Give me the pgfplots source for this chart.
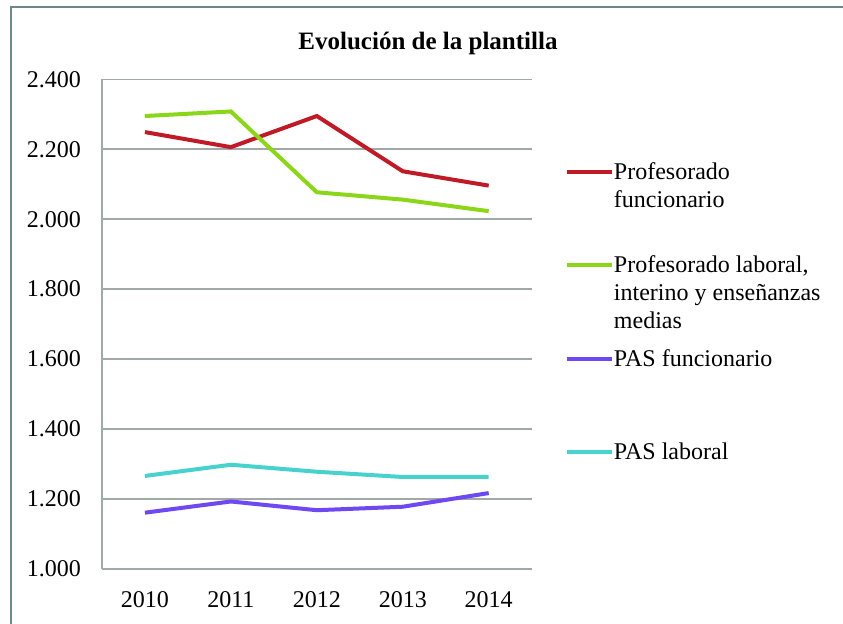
\documentclass[border=0pt]{standalone}
\usepackage{pgfplots}
\pgfplotsset{compat=1.18}
\usepackage{fontspec}
\setmainfont{Liberation Serif}
\definecolor{cred}{RGB}{192,26,38}
\definecolor{cgreen}{RGB}{140,214,26}
\definecolor{cpurple}{RGB}{110,72,240}
\definecolor{ccyan}{RGB}{72,210,206}
\definecolor{cgrid}{RGB}{160,168,168}
\definecolor{cframe}{RGB}{110,135,135}
\newcommand{\lent}[1]{\parbox[b][45.2pt][t]{125pt}{\raggedright\fontsize{12}{14}\selectfont\strut #1}}
\begin{document}
\begin{tikzpicture}
\path[use as bounding box] (0,0) rectangle (421.5pt,312pt);
\draw[cframe,line width=1pt] (5.25pt,0pt) -- (5.25pt,308.5pt) -- (421.5pt,308.5pt);
\node[anchor=base,font=\fontsize{12.5}{15}\selectfont\bfseries] at (214pt,287pt) {Evolución de la plantilla};
\begin{axis}[
  at={(51pt,27.5pt)}, anchor=south west,
  scale only axis, width=214.85pt, height=244.85pt,
  xmin=-0.5, xmax=4.5, ymin=1000, ymax=2400,
  xtick={0,1,2,3,4}, xticklabels={2010,2011,2012,2013,2014},
  ytick={1000,1200,...,2400},
  scaled y ticks=false,
  /pgf/number format/1000 sep={.},
  /pgf/number format/fixed,
  /pgf/number format/assume math mode=true,
  tick label style={font=\fontsize{12}{14}\selectfont},
  yticklabel style={xshift=-7pt},
  xticklabel style={yshift=-7.5pt},
  tick style={draw=none},
  axis x line*=bottom, axis y line*=left,
  axis line style={cgrid,line width=0.75pt,-},
  ymajorgrids, grid style={cgrid,line width=0.75pt},
  legend style={at={(1,1)}, anchor=north west, xshift=16.65pt, yshift=-40.3pt,
    draw=none, fill=none, inner sep=0pt, outer sep=0pt, row sep=0pt,
    nodes={inner sep=0pt, outer sep=0pt, anchor=base west}},
  legend cell align=left,
  legend image code/.code={\draw[#1,line width=2pt] (0pt,39.25pt) -- (22.5pt,39.25pt);},
  every axis plot/.append style={line width=2pt},
]
\addplot[cred] coordinates {(0,2249) (1,2206) (2,2295) (3,2137) (4,2096)};
\addlegendentry{\lent{Profesorado\\funcionario}}
\addplot[cgreen] coordinates {(0,2295) (1,2308) (2,2077) (3,2056) (4,2023)};
\addlegendentry{\lent{Profesorado laboral,\\interino y enseñanzas\\medias}}
\addplot[cpurple] coordinates {(0,1161) (1,1193) (2,1168) (3,1178) (4,1217)};
\addlegendentry{\lent{PAS funcionario}}
\addplot[ccyan] coordinates {(0,1266) (1,1298) (2,1278) (3,1263) (4,1263)};
\addlegendentry{\lent{PAS laboral}}
\end{axis}
\end{tikzpicture}
\end{document}
